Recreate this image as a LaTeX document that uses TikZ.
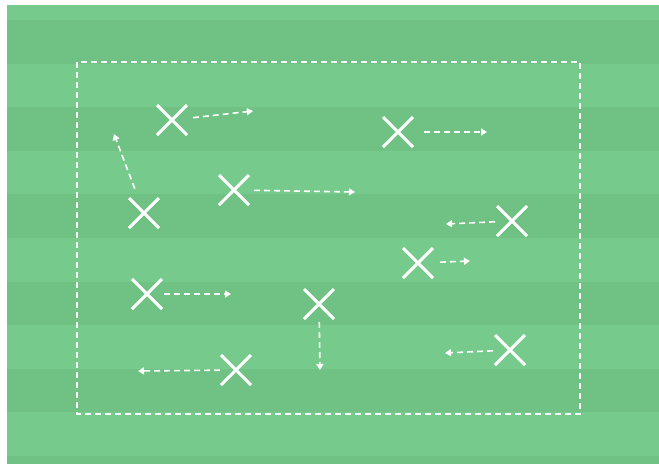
\documentclass[tikz,border=0pt]{standalone}
\usetikzlibrary{arrows.meta,shapes.misc}
\definecolor{PitchDark}{RGB}{111,193,132}
\definecolor{PitchLight}{RGB}{118,203,140}

\begin{document}
\begin{tikzpicture}[x=1pt, y=-1pt,
  player/.style={draw=white, cross out, line width=3pt, minimum size=27pt, inner sep=0pt},
  run/.style={draw=white, line width=1.6pt, dash pattern=on 6pt off 4pt,
    -{Triangle[length=6pt, width=7pt]}, shorten <=#1},
  run/.default=18pt,
  zone/.style={draw=white, line width=1.6pt, dash pattern=on 6pt off 4pt}
]
\useasboundingbox (0,0) rectangle (659,464);
\fill[white] (0,0) rectangle (659,464);

% pitch with mown stripes
\fill[PitchDark] (7,5) rectangle (659,464);
\fill[PitchLight] (7,5) rectangle (659,20);
\foreach \k in {1,3,5,7,9}
  \fill[PitchLight] (7,{20+43.6*\k}) rectangle (659,{20+43.6*(\k+1)});

\draw[zone] (77,62) rectangle (580,414);

% players
\node[player] (p1) at (172,120) {};
\node[player] (p2) at (398,132) {};
\node[player] (p3) at (144,213) {};
\node[player] (p4) at (234,190) {};
\node[player] (p5) at (512,221) {};
\node[player] (p6) at (418,263) {};
\node[player] (p7) at (147,294) {};
\node[player] (p8) at (319,304) {};
\node[player] (p9) at (236,370) {};
\node[player] (p10) at (510,350) {};

% where they run to
\coordinate (t1) at (253,111);
\coordinate (t2) at (487,132);
\coordinate (t3) at (114,134);
\coordinate (t4) at (355,192);
\coordinate (t5) at (446,224);
\coordinate (t6) at (470,261);
\coordinate (t7) at (231,294);
\coordinate (t8) at (320,370);
\coordinate (t9) at (138,371);
\coordinate (t10) at (445,353);

\draw[run=21pt] (p1.center) -- (t1);
\draw[run=26pt] (p2.center) -- (t2);
\draw[run=26pt] (p3.center) -- (t3);
\draw[run=20pt] (p4.center) -- (t4);
\draw[run=17pt] (p5.center) -- (t5);
\draw[run=22pt] (p6.center) -- (t6);
\draw[run=17pt] (p7.center) -- (t7);
\draw[run] (p8.center) -- (t8);
\draw[run=16pt] (p9.center) -- (t9);
\draw[run=17pt] (p10.center) -- (t10);
\end{tikzpicture}
\end{document}
